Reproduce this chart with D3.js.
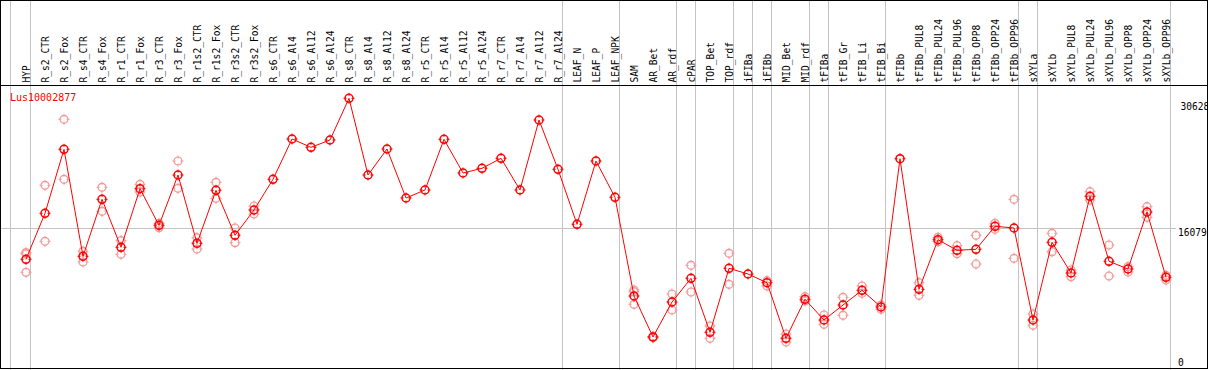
<!DOCTYPE html>
<html><head><meta charset="utf-8">
<script src="https://cdn.jsdelivr.net/npm/d3@7"></script>
<style>html,body{margin:0;padding:0;background:#fff;}svg{display:block;}</style>
</head><body>
<svg id="c" width="1209" height="370"></svg>
<script>
const geneName = "Lus10002877";
const categories = ["HYP","R_s2_CTR","R_s2_Fox","R_s4_CTR","R_s4_Fox","R_r1_CTR","R_r1_Fox","R_r3_CTR","R_r3_Fox","R_r1s2_CTR","R_r1s2_Fox","R_r3s2_CTR","R_r3s2_Fox","R_s6_CTR","R_s6_Al4","R_s6_Al12","R_s6_Al24","R_s8_CTR","R_s8_Al4","R_s8_Al12","R_s8_Al24","R_r5_CTR","R_r5_Al4","R_r5_Al12","R_r5_Al24","R_r7_CTR","R_r7_Al4","R_r7_Al12","R_r7_Al24","LEAF_N","LEAF_P","LEAF_NPK","SAM","AR_Bet","AR_rdf","cPAR","TOP_Bet","TOP_rdf","iFIBa","iFIBb","MID_Bet","MID_rdf","tFIBa","tFIB_Gr","tFIB_Li","tFIB_Bi","tFIBb","tFIBb_PUL8","tFIBb_PUL24","tFIBb_PUL96","tFIBb_OPP8","tFIBb_OPP24","tFIBb_OPP96","sXYLa","sXYLb","sXYLb_PUL8","sXYLb_PUL24","sXYLb_PUL96","sXYLb_OPP8","sXYLb_OPP24","sXYLb_OPP96"];
const meanValues = [12483,17766,25115,12828,19373,13861,20591,16388,22164,14321,20407,15239,18145,21670,26298,25345,26184,30972,22164,25150,19523,20442,26264,22394,22933,24082,20442,28480,22819,16502,23772,19603,8268,3560,7579,10301,4100,11450,10795,9796,3411,7890,5512,7235,8923,7005,24036,9038,14734,13517,13632,16273,16078,5512,14435,10910,19718,12253,11369,17915,10416];
const replicateValues = [[13250,13100,10990],[20981,14550],[28561,21670],[13402,12173],[20752,17995],[14619,13057],[21096,20212],[16617,16112],[23772,20637],[14964,13666],[21326,19488],[16078,14390],[18604,17685],[],[],[],[],[],[],[],[],[],[],[],[],[],[],[],[],[],[],[],[8958,8762,7315],[3620,3480],[8498,6661],[11794,8728],[4823,3411],[13172,9612],[],[10026,9417],[3905,2986],[8188,7694],[6087,5019],[8119,6052],[9417,8578],[7235,6741],[],[9796,8349],[15010,14504],[14045,13126],[15239,11943],[16617,15928],[19373,12598],[6201,4904],[15469,13356],[11254,10485],[20246,19293],[14125,10565],[11633,11025],[18524,17306],[10646,10106]];
const yTickLabels = [0, 16079, 30628];
const groupStart = "HYP";
const groupEnds = ["HYP","R_r7_Al24","LEAF_NPK","AR_rdf","cPAR","TOP_rdf","iFIBa","iFIBb","MID_rdf","tFIBa","tFIB_Bi","tFIBb_OPP96","sXYLa","sXYLb_OPP96"];

const W = 1209, H = 370;
const svg = d3.select("#c");
const x = d3.scalePoint().domain(categories).range([26, 1166]).padding(0);
const step = x.step();
const y = d3.scaleLinear().domain([0, 30628]).range([368, 101.3]);

const grid = "#c4c4c4";
const sepX = [x(groupStart) - step + step*0.2, ...groupEnds.map(c => x(c) + step*0.25)];
svg.append("g").selectAll("line").data(sepX).join("line")
  .attr("x1", d => Math.floor(d)+0.5).attr("x2", d => Math.floor(d)+0.5)
  .attr("y1", 0).attr("y2", H).attr("stroke", grid).attr("stroke-width", 1);
svg.append("line").attr("x1", 0).attr("x2", 1176)
  .attr("y1", Math.round(y(16079))+0.5).attr("y2", Math.round(y(16079))+0.5)
  .attr("stroke", grid).attr("stroke-width", 1);

svg.append("g").selectAll("text").data(categories).join("text")
  .attr("transform", d => `translate(${x(d)+3.6},82.5) rotate(-90)`)
  .attr("font-family", "DejaVu Sans Mono, monospace").attr("font-size", "9.6px")
  .attr("fill", "#000").text(d => d);

svg.append("line").attr("x1", 0).attr("x2", W).attr("y1", 85.5).attr("y2", 85.5).attr("stroke", "#000");

svg.append("g").selectAll("text").data(yTickLabels).join("text")
  .attr("x", d => d === 30628 ? 1180.5 : 1178).attr("text-anchor", "start")
  .attr("y", d => Math.min(y(d) + 8.5, 365.5))
  .attr("font-family", "DejaVu Sans Mono, monospace").attr("font-size", "9.6px")
  .attr("fill", "#000").text(d => d);

svg.append("rect").attr("x", 0.5).attr("y", 0.5).attr("width", 1207).attr("height", 368)
  .attr("fill", "none").attr("stroke", "#000").attr("stroke-width", 1);
svg.append("rect").attr("x", 1208).attr("y", 0).attr("width", 1).attr("height", H).attr("fill", "#fff");

svg.append("text").attr("x", 10).attr("y", 101).attr("fill", "#f00")
  .attr("font-family", "DejaVu Sans Mono, monospace").attr("font-size", "10px").text(geneName);

function marker(g, color, sw) {
  g.append("circle").attr("r", 4).attr("fill", "none").attr("stroke", color).attr("stroke-width", sw);
  const t = [[0,-5.5,0,-2.5],[0,2.5,0,5.5],[-5.5,0,-2.5,0],[2.5,0,5.5,0]];
  t.forEach(s => g.append("line").attr("x1", s[0]).attr("y1", s[1]).attr("x2", s[2]).attr("y2", s[3])
    .attr("stroke", color).attr("stroke-width", 1));
}

const reps = [];
categories.forEach((c, i) => replicateValues[i].forEach(v => reps.push({c, v})));
svg.append("g").selectAll("g").data(reps).join("g")
  .attr("transform", d => `translate(${x(d.c)},${y(d.v)})`)
  .each(function(){ marker(d3.select(this), "#f09999", 1.2); });

const line = d3.line().x((d, i) => x(categories[i])).y(d => y(d));
svg.append("path").datum(meanValues).attr("d", line)
  .attr("fill", "none").attr("stroke", "#f00").attr("stroke-width", 1);

svg.append("g").selectAll("g").data(meanValues).join("g")
  .attr("transform", (d, i) => `translate(${x(categories[i])},${y(d)})`)
  .each(function(){ marker(d3.select(this), "#f00", 1.5); });
</script>
</body></html>
